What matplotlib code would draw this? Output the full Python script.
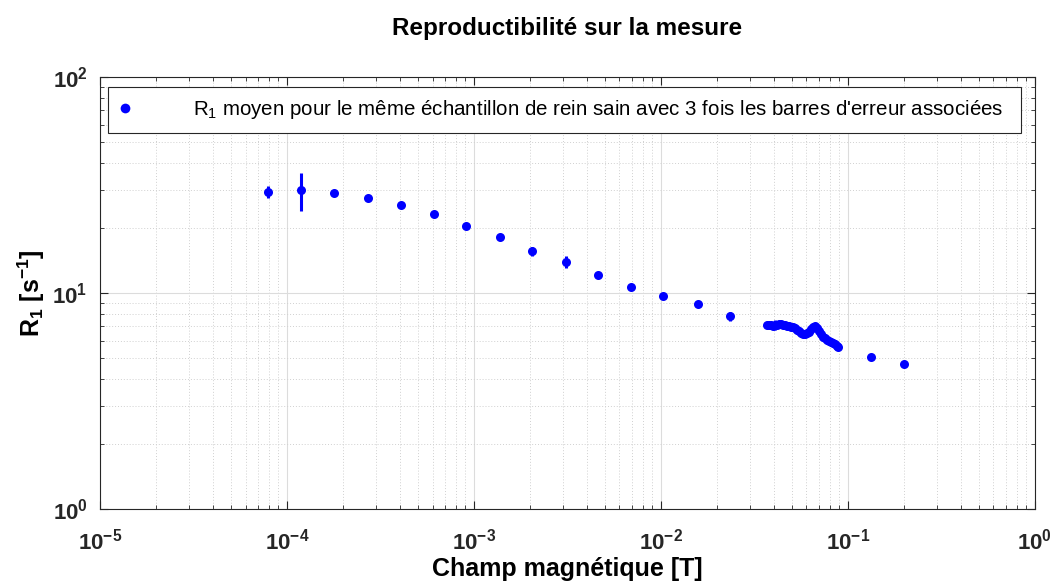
import math

import matplotlib
matplotlib.use("Agg")
import matplotlib.pyplot as plt
from matplotlib.lines import Line2D
from matplotlib.ticker import LogLocator, FuncFormatter, NullFormatter

plt.rcParams["font.family"] = ["Liberation Sans", "DejaVu Sans"]
plt.rcParams["mathtext.fontset"] = "custom"
plt.rcParams["mathtext.rm"] = "Liberation Sans"
plt.rcParams["mathtext.it"] = "Liberation Sans:italic"
plt.rcParams["mathtext.bf"] = "Liberation Sans:bold"

# mesures discretes (champ en T, R1 en s^-1, demi-barre d'erreur)
field = [7.9e-5, 1.19e-4, 1.79e-4, 2.72e-4, 4.06e-4, 6.13e-4, 9.1e-4, 1.38e-3,
         2.05e-3, 3.1e-3, 4.6e-3, 6.95e-3, 1.03e-2, 1.57e-2, 2.34e-2]
r1 = [29.4, 30.0, 29.0, 27.5, 25.6, 23.2, 20.4, 18.2,
      15.6, 13.9, 12.1, 10.7, 9.7, 8.9, 7.8]
err = [1.8, 6.0, 0.5, 0.4, 0.3, 0.3, 0.3, 0.3,
       0.7, 0.9, 0.2, 0.2, 0.2, 0.2, 0.4]

# balayage continu entre 0.037 et 0.089 T
sweep_field = [0.0369, 0.0378, 0.0387, 0.0397, 0.0407, 0.0417, 0.0428, 0.0438,
               0.0449, 0.0460, 0.0472, 0.0484, 0.0496, 0.0508, 0.0521, 0.0534,
               0.0547, 0.0560, 0.0574, 0.0589, 0.0604, 0.0619, 0.0634, 0.0650,
               0.0667, 0.0683, 0.0700, 0.0717, 0.0735, 0.0754, 0.0773, 0.0792,
               0.0811, 0.0831, 0.0852, 0.0869, 0.0886]
sweep_r1 = [7.11, 7.08, 7.07, 7.05, 7.12, 7.14, 7.15, 7.16,
            7.14, 7.10, 7.06, 7.02, 6.98, 6.92, 6.85, 6.74,
            6.64, 6.55, 6.48, 6.46, 6.50, 6.62, 6.78, 6.92,
            7.00, 6.90, 6.70, 6.48, 6.28, 6.16, 6.06, 6.00,
            5.95, 5.88, 5.80, 5.70, 5.62]
sweep_err = [0.05] * 4 + [0.38] + [0.05] * 32

# deux derniers points
tail_field = [0.133, 0.2]
tail_r1 = [5.06, 4.69]
tail_err = [0.05, 0.05]

LEGEND = r"R$_{1}$ moyen pour le même échantillon de rein sain avec 3 fois les barres d'erreur associées"

fig = plt.figure(figsize=(10.54, 5.83), dpi=100)
ax = fig.add_axes([0.0949, 0.127, 0.887, 0.741])

blue = "#0000FF"
all_x = field + sweep_field + tail_field
all_y = r1 + sweep_r1 + tail_r1
all_e = err + sweep_err + tail_err
ax.errorbar(all_x, all_y, yerr=all_e, fmt="o", color=blue, ms=6.5, mew=0,
            elinewidth=2.2, capsize=0, zorder=3)

ax.set_xscale("log")
ax.set_yscale("log")
ax.set_xlim(1e-5, 1)
ax.set_ylim(1, 100)

ax.xaxis.set_major_locator(LogLocator(base=10, numticks=10))
ax.yaxis.set_major_locator(LogLocator(base=10, numticks=10))
ax.xaxis.set_minor_locator(LogLocator(base=10, subs=range(2, 10), numticks=20))
ax.yaxis.set_minor_locator(LogLocator(base=10, subs=range(2, 10), numticks=20))
ax.xaxis.set_minor_formatter(NullFormatter())
ax.yaxis.set_minor_formatter(NullFormatter())
fmt = FuncFormatter(lambda v, p: r"$\mathbf{10^{%d}}$" % round(math.log10(v)))
ax.xaxis.set_major_formatter(fmt)
ax.yaxis.set_major_formatter(fmt)

ax.grid(True, which="major", color="#dcdcdc", linewidth=0.8, linestyle="-")
ax.grid(True, which="minor", color="#d0d0d0", linewidth=0.7, linestyle=(0, (1, 2)))
ax.set_axisbelow(True)

ax.tick_params(which="both", direction="in", top=True, right=True, colors="#262626")
ax.tick_params(which="major", length=6, labelsize=16)
ax.tick_params(axis="x", which="major", pad=14)
ax.tick_params(axis="y", which="major", pad=9)
ax.tick_params(which="minor", length=3)
for s in ax.spines.values():
    s.set_color("#262626")
    s.set_linewidth(0.8)

ax.set_xlabel("Champ magnétique [T]", fontsize=18, fontweight="bold", labelpad=2)
ax.set_ylabel(r"R$_\mathbf{1}$ [s$^\mathbf{-1}$]", fontsize=18, fontweight="bold", labelpad=4)
ax.set_title("Reproductibilité sur la mesure", fontsize=17.5, fontweight="bold", pad=30)

handle = Line2D([], [], linestyle="none", marker="o", color=blue, ms=7, mew=0)
leg = ax.legend([handle], [LEGEND + "  "],
                loc="upper left", bbox_to_anchor=(0.0085, 0.977), fontsize=14.8,
                fancybox=False, framealpha=1, edgecolor="#262626",
                handletextpad=3.0, borderpad=0.55, handlelength=0.6, borderaxespad=0)
leg.get_frame().set_linewidth(0.8)

fig.savefig("out.png", dpi=100, facecolor="white")
